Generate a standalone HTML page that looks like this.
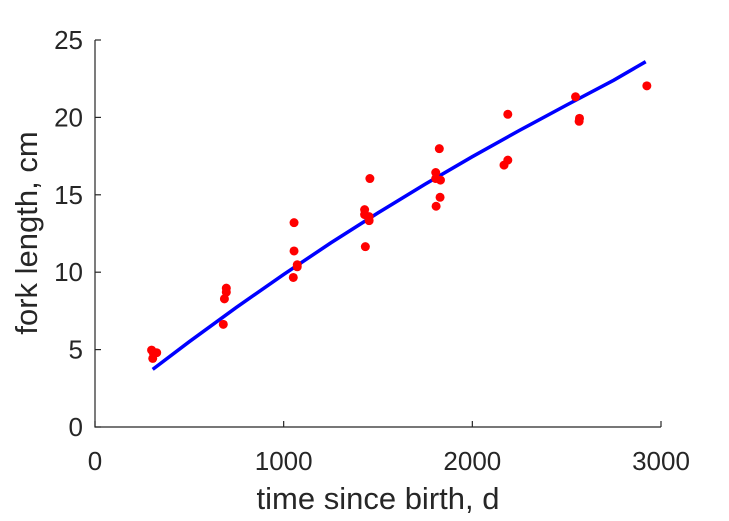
<!DOCTYPE html>
<html><head><meta charset="utf-8"><style>
body{margin:0;background:#fff;}
svg{display:block;font-family:"Liberation Sans",sans-serif;}
</style></head><body>
<svg id="chart" width="729" height="521">
<g id="axes"></g>
<g id="plot"></g>
</svg>
<script>
const obsT=[300,306,327,310,680,686,696,696,1051,1055,1072,1072,1055,1429,1429,1453,1453,1433,1457,1806,1806,1831,1829,1808,1825,2168,2188,2188,2547,2568,2566,2925];
const obsL=[4.97,4.43,4.80,4.75,6.63,8.28,8.71,8.97,9.66,11.37,10.48,10.35,13.2,14.04,13.72,13.59,13.33,11.65,16.05,16.44,16.05,15.95,14.84,14.26,17.98,16.92,17.24,20.2,21.33,19.94,19.75,22.04];
const fitT=[306,500,750,1000,1250,1500,1750,2000,2250,2500,2750,2919];
const fitL=[3.72,5.51,7.73,9.86,11.89,13.83,15.69,17.46,19.16,20.8,22.4,23.6];
const xTicks=[0,1000,2000,3000];
const yTicks=[0,5,10,15,20,25];
const NS="http://www.w3.org/2000/svg";
const L=95,R=661,T=40,B=427;
const sx=v=>L+(v-0)/(3000-0)*(R-L);
const sy=v=>B-(v-0)/(25-0)*(B-T);
function mk(tag,attrs,parent){const e=document.createElementNS(NS,tag);for(const k in attrs)e.setAttribute(k,attrs[k]);parent.appendChild(e);return e;}
const ax=document.getElementById('axes'),pl=document.getElementById('plot');
let a=mk('path',{d:`M${L},${T}V${B}H${R}`,fill:'none',stroke:'#262626','stroke-width':1.2},ax);


xTicks.forEach(v=>{
 const t=mk('line',{x1:sx(v),x2:sx(v),y1:B,y2:B-6,stroke:'#262626','stroke-width':1.2},ax);
 
 
 const tx=mk('text',{x:sx(v),y:B+43,'text-anchor':'middle','font-size':26,fill:'#262626'},ax);
 tx.textContent=v;
 
 
});
yTicks.forEach(v=>{
 const t=mk('line',{x1:L,x2:L+6,y1:sy(v),y2:sy(v),stroke:'#262626','stroke-width':1.2},ax);
 
 
 const tx=mk('text',{x:L-12,y:sy(v)+9,'text-anchor':'end','font-size':26,fill:'#262626'},ax);
 tx.textContent=v;
 
 
});
let xt=mk('text',{x:378,y:509,'text-anchor':'middle','font-size':31,fill:'#262626'},ax);
xt.textContent='time since birth, d';


let yt=mk('text',{x:0,y:0,'text-anchor':'middle','font-size':31,fill:'#262626',transform:`translate(37,233) rotate(-90)`},ax);
yt.textContent='fork length, cm';


let d=fitT.map((t,i)=>(i?'L':'M')+sx(t).toFixed(1)+','+sy(fitL[i]).toFixed(1)).join('');
let ln=mk('path',{d:d,fill:'none',stroke:'#0000ff','stroke-width':3.5},pl);


obsT.forEach((t,i)=>{
 const c=mk('circle',{cx:sx(t),cy:sy(obsL[i]),r:4.5,fill:'#ff0000'},pl);
 
 
});
</script>
</body></html>
